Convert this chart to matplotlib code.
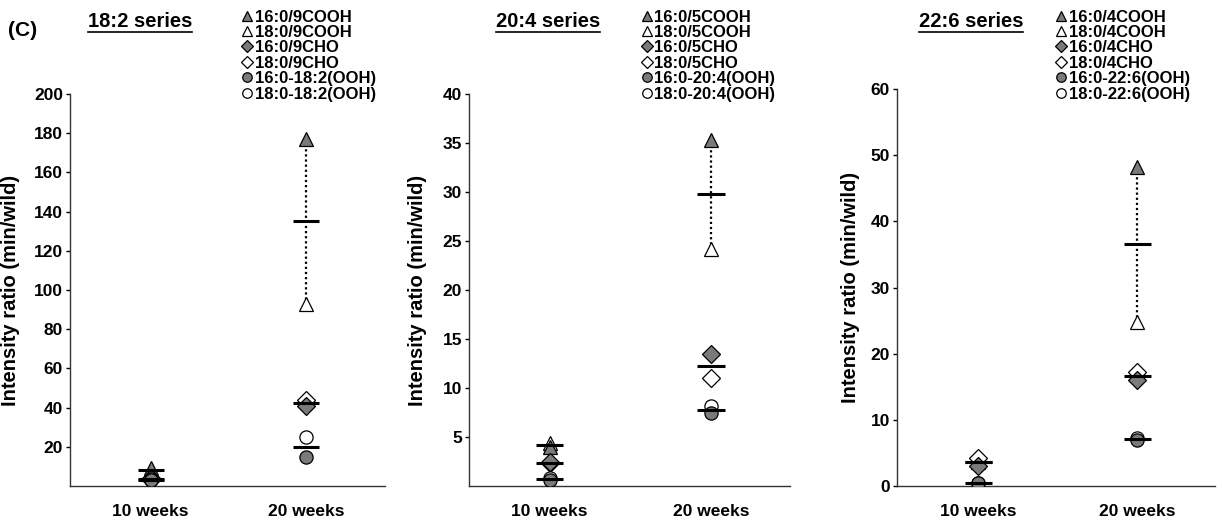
import matplotlib
matplotlib.use("Agg")
import matplotlib.pyplot as plt
from matplotlib.lines import Line2D
import numpy as np

plt.rcParams['font.family'] = ['Liberation Sans', 'DejaVu Sans']
plt.rcParams['font.weight'] = 'bold'

weeks = ["10 weeks", "20 weeks"]

# panel titles and legend names
series_titles = ["18:2 series", "20:4 series", "22:6 series"]
legend_names = [
    ["16:0/9COOH", "18:0/9COOH", "16:0/9CHO", "18:0/9CHO", "16:0-18:2(OOH)", "18:0-18:2(OOH)"],
    ["16:0/5COOH", "18:0/5COOH", "16:0/5CHO", "18:0/5CHO", "16:0-20:4(OOH)", "18:0-20:4(OOH)"],
    ["16:0/4COOH", "18:0/4COOH", "16:0/4CHO", "18:0/4CHO", "16:0-22:6(OOH)", "18:0-22:6(OOH)"],
]

# values per species: [10 weeks, 20 weeks]
s18_2 = {
    "16:0 COOH": [9.0, 177.0], "18:0 COOH": [7.4, 93.0],
    "16:0 CHO": [4.0, 41.0], "18:0 CHO": [3.0, 44.0],
    "16:0 OOH": [3.0, 15.0], "18:0 OOH": [3.4, 25.0],
}
s20_4 = {
    "16:0 COOH": [4.0, 35.3], "18:0 COOH": [4.4, 24.2],
    "16:0 CHO": [2.4, 13.5], "18:0 CHO": [2.3, 11.0],
    "16:0 OOH": [0.6, 7.4], "18:0 OOH": [0.8, 8.2],
}
s22_6 = {
    "16:0 COOH": [3.8, 48.2], "18:0 COOH": [3.6, 24.8],
    "16:0 CHO": [3.0, 16.0], "18:0 CHO": [4.3, 17.2],
    "16:0 OOH": [0.4, 7.0], "18:0 OOH": [0.5, 7.3],
}
panel_data = [s18_2, s20_4, s22_6]

y_limits = [(0, 200), (0, 40), (0, 60)]
y_ticks = [np.arange(20, 201, 20), np.arange(5, 41, 5), np.arange(0, 61, 10)]

GRAY = "#7a7a7a"
styles = {
    "16:0 COOH": dict(marker="^", mfc=GRAY),
    "18:0 COOH": dict(marker="^", mfc="white"),
    "16:0 CHO": dict(marker="D", mfc=GRAY),
    "18:0 CHO": dict(marker="D", mfc="white"),
    "16:0 OOH": dict(marker="o", mfc=GRAY),
    "18:0 OOH": dict(marker="o", mfc="white"),
}
sizes = {"^": 10, "D": 9, "o": 9.5}
draw_order = ["18:0 COOH", "16:0 COOH", "18:0 CHO", "16:0 CHO", "18:0 OOH", "16:0 OOH"]
legend_order = ["16:0 COOH", "18:0 COOH", "16:0 CHO", "18:0 CHO", "16:0 OOH", "18:0 OOH"]
pairs = [("16:0 COOH", "18:0 COOH"), ("16:0 CHO", "18:0 CHO"), ("16:0 OOH", "18:0 OOH")]

W, H = 1222, 522
fig = plt.figure(figsize=(W / 100, H / 100), dpi=100)

# axes boxes in pixels: left, right, top, bottom
boxes = [(70, 385, 94, 486), (469, 790, 94, 486), (897, 1215, 89, 486)]
x_limits = [(-0.52, 1.51), (-0.50, 1.49), (-0.51, 1.49)]
title_x = [140, 548, 971]
legend_x = [247, 647, 1061]
ylabel_x = [-0.158, -0.131, -0.116]

x = np.arange(len(weeks))

for i in range(3):
    l, r, t, b = boxes[i]
    ax = fig.add_axes([l / W, (H - b) / H, (r - l) / W, (b - t) / H])
    data = panel_data[i]

    # dotted line between the two COOH points at 20 weeks
    ax.plot([1, 1], [data["16:0 COOH"][1], data["18:0 COOH"][1]],
            ls=(0, (1, 1.3)), color="black", lw=1.6, zorder=1)

    for k in draw_order:
        st = styles[k]
        ax.plot(x, data[k], ls="none", marker=st["marker"], mfc=st["mfc"],
                mec="black", mew=0.9, ms=sizes[st["marker"]], zorder=3)

    # mean of each pair as a short horizontal bar
    for a, c in pairs:
        m = (np.array(data[a]) + np.array(data[c])) / 2
        ax.hlines(m, x - 0.085, x + 0.085, color="black", lw=2.2, zorder=4)

    ax.set_xlim(*x_limits[i])
    ax.set_ylim(*y_limits[i])
    ax.set_yticks(y_ticks[i])
    ax.set_xticks(x)
    ax.set_xticklabels(weeks, fontsize=12.5, fontweight="bold")
    ax.tick_params(axis="x", length=0, pad=13)
    ax.tick_params(axis="y", length=3, width=1, labelsize=12.5, pad=2)
    for lab in ax.get_yticklabels():
        lab.set_fontweight("bold")
    for s in ["top", "right"]:
        ax.spines[s].set_visible(False)
    for s in ["left", "bottom"]:
        ax.spines[s].set_color("#333333")
        ax.spines[s].set_linewidth(1.0)
    ax.set_ylabel("Intensity ratio (min/wild)", fontsize=14.5, fontweight="bold")
    ax.yaxis.set_label_coords(ylabel_x[i], 0.5)

    # legend drawn row by row: marker + label
    for j, (k, name) in enumerate(zip(legend_order, legend_names[i])):
        st = styles[k]
        yy = 1 - (15.5 + j * 15.4) / H
        fig.add_artist(Line2D([legend_x[i] / W], [yy], ls="none", marker=st["marker"],
                              mfc=st["mfc"], mec="black", mew=0.9,
                              ms=sizes[st["marker"]] * 0.72, transform=fig.transFigure))
        fig.text((legend_x[i] + 7.5) / W, yy, name, ha="left", va="center_baseline",
                 fontsize=12, fontweight="bold")

    # title (underlined later)
    fig.text(title_x[i] / W, 1 - 21.5 / H, series_titles[i], ha="center", va="center",
             fontsize=14.5, fontweight="bold")

fig.text(8 / W, 1 - 30 / H, "(C)", ha="left", va="center", fontsize=15, fontweight="bold")

# underline the titles
fig.canvas.draw()
renderer = fig.canvas.get_renderer()
for t in fig.texts:
    if t.get_text() in series_titles:
        bb = t.get_window_extent(renderer)
        y0 = bb.y0 - 0.5
        fig.add_artist(Line2D([bb.x0 / W, bb.x1 / W], [y0 / H, y0 / H], color="black",
                              lw=1.2, transform=fig.transFigure))

fig.savefig("out.png", dpi=100)
